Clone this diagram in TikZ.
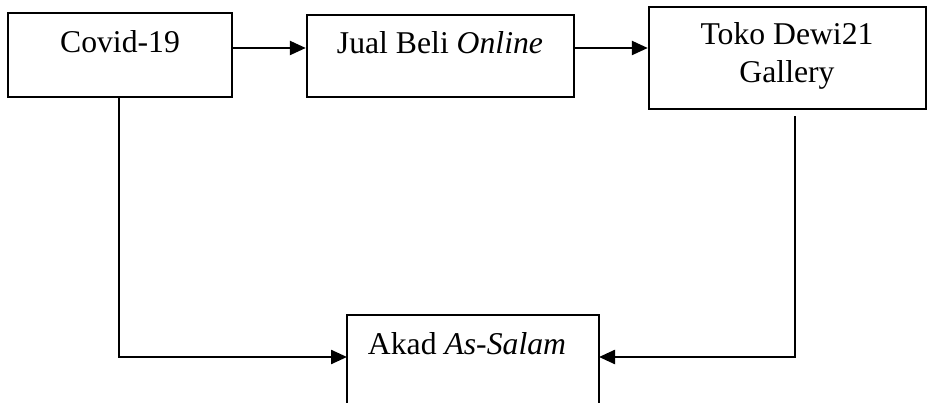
\documentclass[tikz,border=0pt]{standalone}
\usepackage{fontspec}
\setmainfont{Liberation Serif}
\usetikzlibrary{arrows.meta}
\begin{document}
\begin{tikzpicture}[x=1pt,y=-1pt,
  box/.style={draw=black,line width=2.4pt,rectangle,inner sep=0pt},
  lbl/.style={anchor=base,inner sep=0pt,font=\fontsize{31.7}{38}\selectfont},
  conn/.style={draw=black,line width=2.4pt},
  arr/.style={conn,-{Triangle[length=16pt,width=14pt]}}]
\useasboundingbox (0,0) rectangle (927,403);
\clip (0,0) rectangle (927,403);
% boxes
\node[box,minimum width=224pt,minimum height=84pt] (covid) at (120,55) {};
\node[box,minimum width=267pt,minimum height=82pt] (jual) at (440.5,56) {};
\node[box,minimum width=277pt,minimum height=102pt] (toko) at (787.5,58) {};
\node[box,minimum width=252pt,minimum height=130pt] (akad) at (473,380) {};
% labels
\node[lbl] (tcovid) at (120,53) {Covid-19};
\node[lbl] (tjual) at (440,54) {Jual Beli \textit{Online}};
\node[lbl] (ttoko1) at (787,45) {Toko Dewi21};
\node[lbl] (ttoko2) at (787,83) {Gallery};
\node[lbl] (takad) at (467,355) {Akad \textit{As-Salam}};
% connector points
\coordinate (aL) at (347,357);
\coordinate (aR) at (599,357);
% connectors
\draw[arr] ([yshift=7pt]covid.east) -- ([yshift=8pt]jual.west);
\draw[arr] ([yshift=8pt]jual.east) -- ([yshift=10pt]toko.west);
\draw[arr] ([xshift=-1pt]covid.south) |- (aL);
\draw[arr] ([xshift=7.5pt,yshift=-6pt]toko.south) |- (aR);
\end{tikzpicture}
\end{document}
